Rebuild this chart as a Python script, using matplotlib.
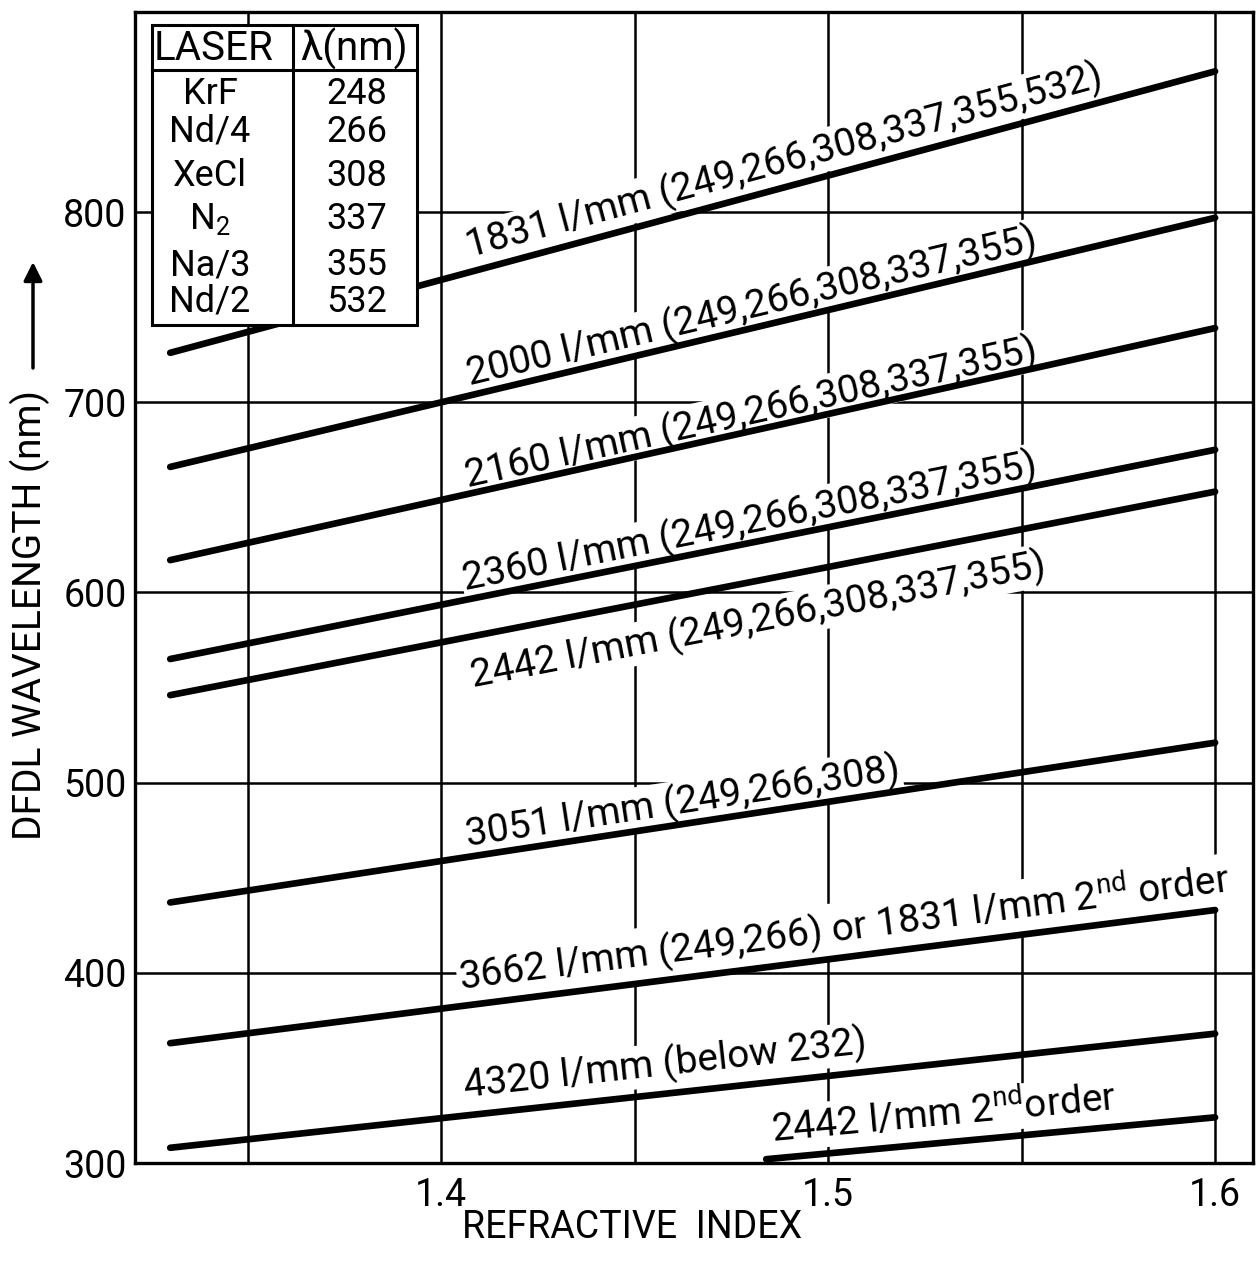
import numpy as np
import matplotlib
matplotlib.use("Agg")
import matplotlib.pyplot as plt
from matplotlib.patches import Rectangle
from matplotlib.lines import Line2D
from matplotlib.transforms import IdentityTransform

plt.rcParams['font.family'] = ['Roboto', 'DejaVu Sans']
plt.rcParams['mathtext.fontset'] = 'custom'
plt.rcParams['mathtext.rm'] = 'Roboto'
plt.rcParams['mathtext.it'] = 'Roboto'
plt.rcParams['mathtext.bf'] = 'Roboto'

# ---------------- data ----------------
labels = [
    "1831 l/mm (249,266,308,337,355,532)",
    "2000 l/mm (249,266,308,337,355)",
    "2160 l/mm (249,266,308,337,355)",
    "2360 l/mm (249,266,308,337,355)",
    "2442 l/mm (249,266,308,337,355)",
    "3051 l/mm (249,266,308)",
    "3662 l/mm (249,266) or 1831 l/mm 2$^{\\mathrm{nd}}$ order",
    "4320 l/mm (below 232)",
    "2442 l/mm 2$^{\\mathrm{nd}}$order",
]
x_start = [1.330, 1.330, 1.330, 1.330, 1.330, 1.330, 1.330, 1.330, 1.484]
x_end   = [1.600, 1.600, 1.600, 1.600, 1.600, 1.600, 1.600, 1.600, 1.600]
y_start = [726, 666, 617, 565, 546, 437, 363, 308, 302]
y_end   = [874, 797, 739, 675, 653, 521, 433, 368, 324]

x_ticks = [1.4, 1.5, 1.6]
x_ticklabels = ["1.4", "1.5", "1.6"]
x_minor = [1.35, 1.45, 1.55]
y_ticks = [300, 400, 500, 600, 700, 800]

table_lasers = ["KrF", "Nd/4", "XeCl", "N$_2$", "Na/3", "Nd/2"]
table_wavelengths = ["248", "266", "308", "337", "355", "532"]

# ---------------- layout ----------------
W, H = 1258, 1269
fig = plt.figure(figsize=(W / 100, H / 100), dpi=100)
ax = fig.add_axes([135 / W, (H - 1163) / H, (1253 - 135) / W, (1163 - 12) / H])
ax.set_xlim(1.3209, 1.6098)
ax.set_ylim(300, 905.2)

ax.set_xticks(x_ticks)
ax.set_xticklabels(x_ticklabels)
ax.set_xticks(x_minor, minor=True)
ax.set_yticks(y_ticks)
ax.tick_params(axis='both', which='both', length=0, labelsize=27)
ax.tick_params(axis='x', pad=10)
ax.tick_params(axis='y', pad=6)
ax.grid(True, which='both', color='black', lw=1.8)
ax.set_axisbelow(True)
for s in ax.spines.values():
    s.set_linewidth(2.4)

for xs, xe, ys, ye in zip(x_start, x_end, y_start, y_end):
    ax.plot([xs, xe], [ys, ye], color='black', lw=4.8,
            solid_capstyle='round', zorder=5)

fig.canvas.draw()

# label placement: (start x in pixels from left, vertical gap in px; positive = above line)
label_px = [470, 470, 468, 465, 473, 468, 460, 465, 772]
label_gap = [15, 10, 7, 10, -51, 11, 16, 18, 16]

def px2x(px):
    return 1.5 + (px - 828) / 3870.0

for lab, xs, xe, ys, ye, lp, gap in zip(labels, x_start, x_end, y_start, y_end,
                                         label_px, label_gap):
    p0 = ax.transData.transform((xs, ys))
    p1 = ax.transData.transform((xe, ye))
    ang = np.degrees(np.arctan2(p1[1] - p0[1], p1[0] - p0[0]))
    x0 = px2x(lp)
    y0 = np.interp(x0, [xs, xe], [ys, ye])
    d = ax.transData.transform((x0, y0))
    t = ax.text(d[0], d[1] + gap, lab, transform=IdentityTransform(), fontsize=28,
                rotation=ang, rotation_mode='anchor', ha='left', va='baseline',
                zorder=3, clip_on=False)
    t.set_bbox(dict(facecolor='white', edgecolor='none', pad=1.0))

# axis labels
def fp(x, y):
    return (x / W, 1 - y / H)

fig.text(*fp(632, 1238), "REFRACTIVE  INDEX", fontsize=27, ha='center',
         va='baseline')
fig.text(*fp(30, 615), "DFDL WAVELENGTH (nm)", fontsize=28, rotation=90,
         ha='center', va='center')
ax.annotate('', xy=(33, H - 262), xytext=(33, H - 368),
            xycoords='figure pixels', textcoords='figure pixels',
            arrowprops=dict(arrowstyle='-|>', lw=2.5, color='black',
                            mutation_scale=28, shrinkA=0, shrinkB=0))

# table
tl, tr, tt, tb = 152, 417, 25, 325
rect = Rectangle(fp(tl, tb), (tr - tl) / W, (tb - tt) / H,
                 transform=fig.transFigure, facecolor='white',
                 edgecolor='black', lw=2.2, zorder=2)
fig.add_artist(rect)
fig.add_artist(Line2D([tl / W, tr / W], [1 - 70 / H, 1 - 70 / H],
                      transform=fig.transFigure, color='black', lw=2.2, zorder=2.1))
fig.add_artist(Line2D([293 / W, 293 / W], [1 - tt / H, 1 - tb / H],
                      transform=fig.transFigure, color='black', lw=2.2, zorder=2.1))
fig.text(*fp(214, 49), "LASER", fontsize=29, ha='center', va='center', zorder=4)
fig.text(*fp(354, 49), "λ(nm)", fontsize=29, ha='center', va='center', zorder=4)
row_y = [94, 132, 176, 219, 265, 302]
for ry, las, wl in zip(row_y, table_lasers, table_wavelengths):
    fig.text(*fp(210, ry), las, fontsize=26, ha='center', va='center', zorder=4)
    fig.text(*fp(357, ry), wl, fontsize=26, ha='center', va='center', zorder=4)

fig.savefig("out.png", dpi=100)
